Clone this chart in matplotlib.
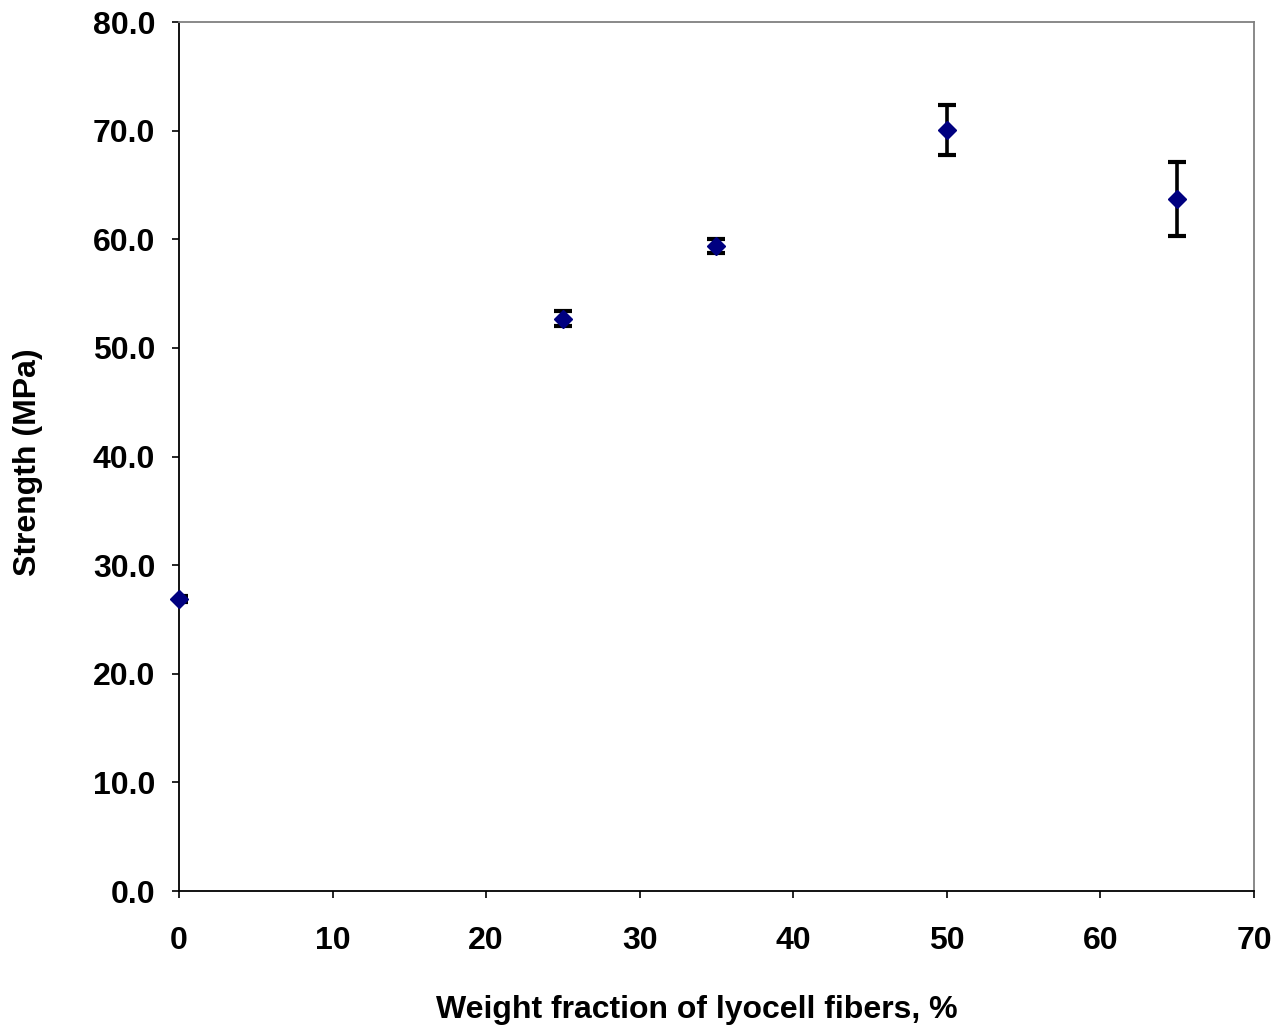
import matplotlib.pyplot as plt

# Datos
fraccion = [0, 25, 35, 50, 65]
resistencia = [26.9, 52.7, 59.4, 70.1, 63.7]
error = [0.3, 0.7, 0.65, 2.3, 3.4]

plt.rcParams['font.family'] = ['Liberation Sans', 'DejaVu Sans']
plt.rcParams['font.weight'] = 'bold'

fig = plt.figure(figsize=(12.8, 10.29), dpi=100)
ax = fig.add_axes([0.1398, 0.1341, 0.8399, 0.8445])

ax.errorbar(fraccion, resistencia, yerr=error, fmt='none', ecolor='black',
            elinewidth=2.6, capsize=6.5, capthick=3, zorder=2)
ax.plot(fraccion, resistencia, 'D', color='#000080', markersize=9.5, zorder=3,
        clip_on=False)

ax.set_xlim(0, 70)
ax.set_ylim(0, 80)
ax.set_xticks(range(0, 71, 10))
ax.set_yticks(range(0, 81, 10))
ax.set_yticklabels([f"{v:.1f}" for v in range(0, 81, 10)])

ax.tick_params(axis='both', direction='out', length=5, width=1.2, labelsize=23)
ax.tick_params(axis='x', pad=20)
ax.tick_params(axis='y', pad=12)

for s in ['left', 'bottom']:
    ax.spines[s].set_color('black')
    ax.spines[s].set_linewidth(1.3)
for s in ['top', 'right']:
    ax.spines[s].set_color('#808080')
    ax.spines[s].set_linewidth(1.3)

ax.set_xlabel('Weight fraction of lyocell fibers, %', fontsize=23,
              fontweight='bold', labelpad=28)
ax.set_ylabel('Strength (MPa)', fontsize=23, fontweight='bold', labelpad=36)
ax.xaxis.label.set_x(0.482)
ax.yaxis.label.set_y(0.493)

fig.savefig('out.png', dpi=100)
